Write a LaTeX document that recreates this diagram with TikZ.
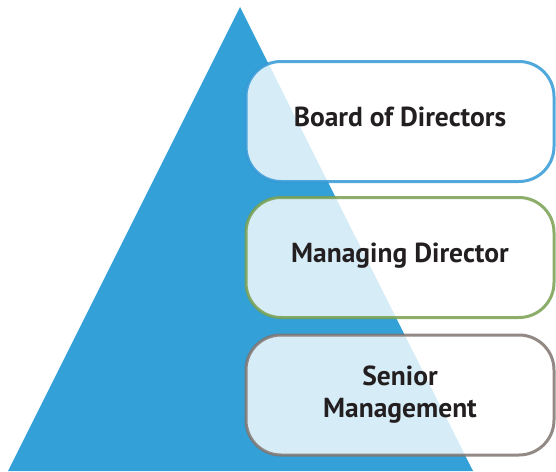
\documentclass[tikz,border=0pt]{standalone}
\usepackage{fontspec}
\setmainfont{PT Sans}
\usepackage{tikz}
\definecolor{pyrblue}{HTML}{33A0D8}
\definecolor{lineblue}{HTML}{3399D6}
\definecolor{linegreen}{HTML}{78A050}
\definecolor{linegray}{HTML}{807570}
\definecolor{textdark}{HTML}{231F20}

\begin{document}
\begin{tikzpicture}[x=1pt, y=-1pt,
        level/.style = {draw, line width=3pt, rounded corners=35pt, fill=white, fill opacity=0.8, draw opacity=0.85, text opacity=1, minimum width=308pt, minimum height=120pt, align=center, font=\fontsize{27.5}{32}\selectfont\bfseries, text=textdark}]
                \useasboundingbox (0, 0) rectangle (556, 471);
                \fill[pyrblue] (240, 7) -- (473, 471) -- (8, 471) -- cycle;

                \node[level, draw=lineblue, text depth=10pt] at (400, 121.5) (board) {Board of Directors};
                \node[level, draw=linegreen, text depth=10pt] at (400, 257.5) (md) {Managing Director};
                \node[level, draw=linegray] at (400, 395) (senior) {Senior\\Management};
            \end{tikzpicture}
\end{document}
